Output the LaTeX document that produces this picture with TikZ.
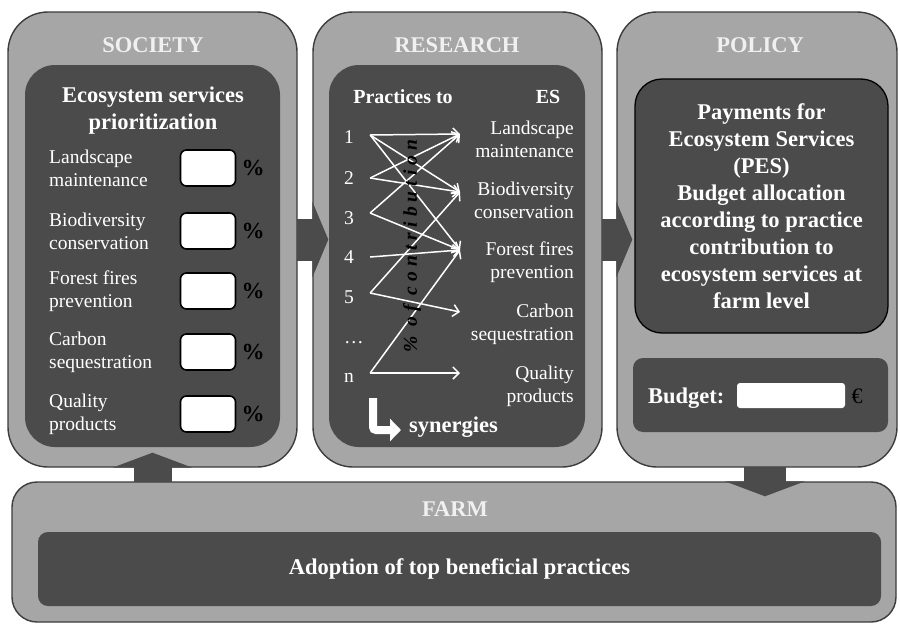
\documentclass[tikz,border=0pt]{standalone}
\usepackage{fontspec}
\setmainfont{Liberation Serif}
\usepackage{xcolor}
\usepackage{tikz}
\usetikzlibrary{arrows.meta,positioning,calc}

\definecolor{boxgray}{HTML}{A6A6A6}
\definecolor{panelgray}{HTML}{4B4B4B}
\definecolor{rimgray}{HTML}{3C3C3C}
\definecolor{headgray}{HTML}{F0F0F0}

\tikzset{
  stage/.style={draw=rimgray, line width=1.4pt, fill=boxgray, rounded corners=40pt, inner sep=0pt},
  panel/.style={fill=panelgray, rounded corners=30pt, inner sep=0pt},
  heading/.style={text=headgray, font=\fontsize{22.5}{26}\selectfont\bfseries},
  boldtext/.style={text=white, font=\fontsize{22.5}{27}\selectfont\bfseries, align=center},
  bodytext/.style={text=white, font=\fontsize{19.5}{23}\selectfont, inner sep=0pt},
  valuebox/.style={draw=black, line width=1.6pt, fill=white, rounded corners=6pt, minimum width=55pt, minimum height=36pt},
  pct/.style={text=black, font=\fontsize{23}{23}\selectfont\bfseries},
  flow/.style={white, line width=1.5pt, -{Straight Barb[length=6pt,width=12pt]}}
}

\begin{document}
\begin{tikzpicture}[x=1pt,y=-1pt]
  \useasboundingbox (0,0) rectangle (900,624);

  % Columns
  \node[stage, minimum width=289pt, minimum height=455pt] (society) at (152.5,239.5) {};
  \node[stage, minimum width=289pt, minimum height=455pt] (research) at (457.5,239.5) {};
  \node[stage, minimum width=280pt, minimum height=455pt] (policy) at (757,239.5) {};
  \node[stage, rounded corners=25pt, minimum width=884pt, minimum height=140pt] (farm) at (454,552) {};

  % Inner panels
  \node[panel, minimum width=255pt, minimum height=382pt] (prior) at (152.5,256) {};
  \node[panel, minimum width=256pt, minimum height=382pt] (matrix) at (457,256) {};
  \node[panel, boldtext, draw=black, line width=1.3pt, rounded corners=27pt,
        minimum width=253pt, minimum height=254pt] (pes) at (761.5,206)
        {Payments for\\Ecosystem Services\\(PES)\\Budget allocation\\according to practice\\contribution to\\ecosystem services at\\farm level};
  \node[panel, rounded corners=10pt, minimum width=255pt, minimum height=74pt] (budget) at (760.5,395) {};
  \node[panel, boldtext, rounded corners=10pt, minimum width=843pt, minimum height=74pt] (adopt) at (459.5,569)
        {Adoption of top beneficial practices};

  % Titles
  \node[heading] (societytitle) at (153,45) {SOCIETY};
  \node[heading] (researchtitle) at (457,45) {RESEARCH};
  \node[heading] (policytitle) at (760,45) {POLICY};
  \node[heading] (farmtitle) at (455,509) {FARM};

  % Block arrows
  \fill[panelgray] ($(society.east)+(-1,-21)$) rectangle ($(research.west)+(1,21)$);
  \fill[panelgray] ($(research.west)+(0,-38)$) -- ($(research.west)+(16,0)$) -- ($(research.west)+(0,38)$) -- cycle;
  \fill[panelgray] ($(research.east)+(-1,-21)$) rectangle ($(policy.west)+(1,21)$);
  \fill[panelgray] ($(policy.west)+(0,-38)$) -- ($(policy.west)+(16,0)$) -- ($(policy.west)+(0,38)$) -- cycle;
  \fill[panelgray] ($(society.south)+(-19,-1)$) rectangle ($(society.south |- farm.north)+(19,1)$);
  \fill[panelgray] ($(society.south)+(-40,0)$) -- ($(society.south)+(0,-15)$) -- ($(society.south)+(40,0)$) -- cycle;
  \coordinate (drop) at ($(policy.south)+(8,0)$);
  \fill[panelgray] ($(drop)+(-21,-1)$) rectangle ($(drop |- farm.north)+(21,1)$);
  \fill[panelgray] ($(drop |- farm.north)+(-40,0)$) -- ($(drop |- farm.north)+(0,15)$) -- ($(drop |- farm.north)+(40,0)$) -- cycle;

  % Society: prioritization
  \node[boldtext] (priortitle) at (153,111) {Ecosystem services\\prioritization};
  \foreach \y/\name/\txt in {168/land/{Landscape\\maintenance}, 231/bio/{Biodiversity\\conservation},
      291/fire/{Forest fires\\prevention}, 352/carb/{Carbon\\sequestration}, 414/qual/{Quality\\products}} {
    \node[bodytext, anchor=west, align=left] (\name) at (49,\y) {\txt};
    \node[valuebox] (\name-box) at (208,\y) {};
    \node[pct] (\name-pct) at (253,\y) {\%};
  }

  % Research: practices to ES
  \node[boldtext, font=\fontsize{20}{20}\selectfont\bfseries, anchor=base, inner sep=0pt] (practhead) at (403,103) {Practices to};
  \node[boldtext, font=\fontsize{20}{20}\selectfont\bfseries, anchor=base, inner sep=0pt] (eshead) at (548,103) {ES};
  \foreach \y/\lbl/\nm in {143/1/p1, 184/2/p2, 224/3/p3, 263/4/p4, 303/5/p5, 343/\dots/pd, 382/n/pn}
    \node[bodytext, anchor=base west] (\nm) at (344,\y) {\lbl};
  \foreach \y/\nm in {135/s1, 178/s2, 213/s3, 257/s4, 293/s5, 373/sn}
    \coordinate (\nm) at ($(p1.east |- 0,\y)+(16,0)$);
  \foreach \y/\t/\nm/\txt in {139/134/lm/{Landscape\\maintenance}, 200/192/bc/{Biodiversity\\conservation},
      262/250/ff/{Forest fires\\prevention}, 324/312/cs/{Carbon\\sequestration}, 386/373/qp/{Quality\\products}} {
    \node[bodytext, anchor=east, align=right] (\nm) at (574,\y) {\txt};
    \coordinate (\nm-in) at (460,\t);
  }
  \foreach \a/\b in {s1/lm-in, s1/bc-in, s1/ff-in, s2/lm-in, s2/bc-in, s3/lm-in, s3/ff-in,
      s4/ff-in, s5/bc-in, s5/cs-in, sn/ff-in, sn/qp-in}
    \draw[flow] (\a) -- (\b);
  \node[rotate=90, text=black, font=\fontsize{19.5}{19.5}\selectfont\bfseries\itshape\addfontfeature{LetterSpace=26}] (share) at (412,246) {\% of contribution};

  % Synergies
  \coordinate (synstart) at (373,398);
  \coordinate (synend) at (401,430);
  \draw[white, line width=8pt, rounded corners=3pt, -{Triangle[length=11pt,width=22pt]}] (synstart) |- (synend);
  \node[boldtext, anchor=base west, inner sep=0pt] (syn) at (409,432) {synergies};

  % Policy: budget
  \node[boldtext, anchor=base west, inner sep=0pt] (budgetlbl) at (648,403) {Budget:};
  \node[fill=white, rounded corners=3pt, minimum width=108pt, minimum height=25pt, inner sep=0pt] (amount) at (791,395.5) {};
  \node[text=black, font=\fontsize{22}{22}\selectfont, anchor=base] (euro) at (857,403) {€};
\end{tikzpicture}
\end{document}
